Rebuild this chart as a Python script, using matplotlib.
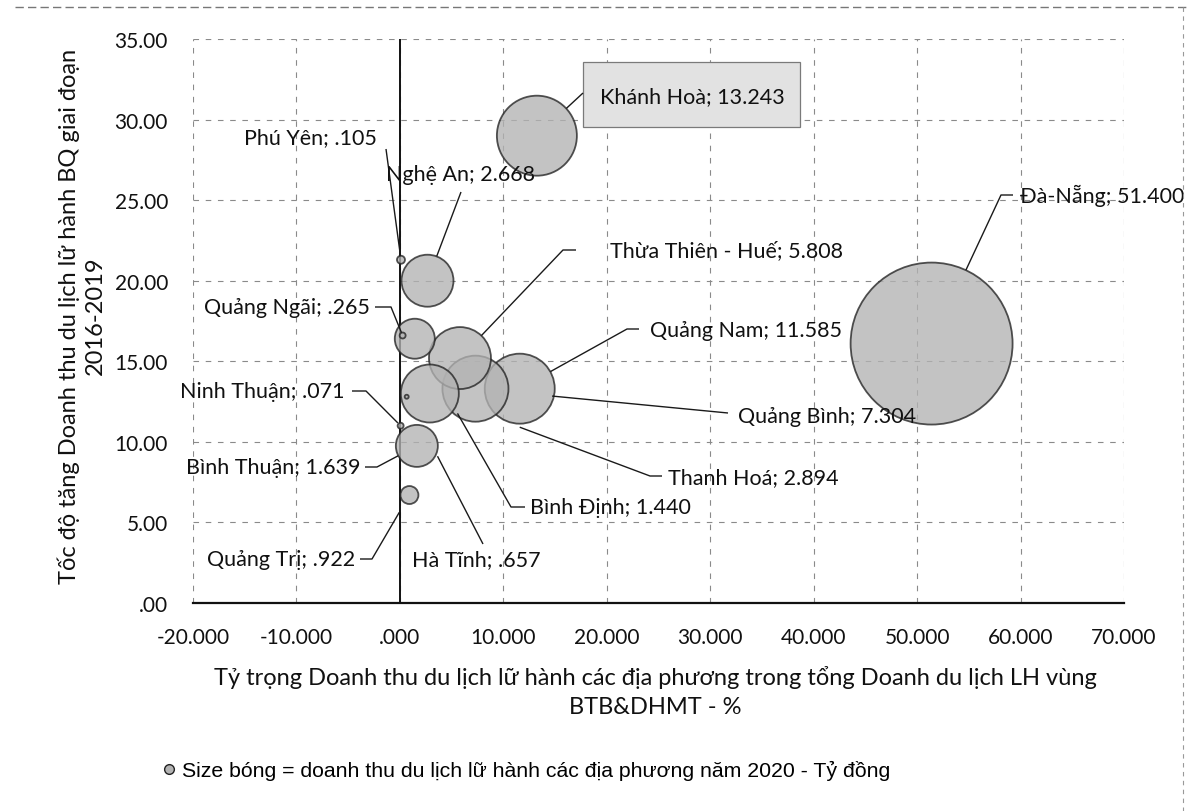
import numpy as np
import matplotlib
matplotlib.use("Agg")
import matplotlib.pyplot as plt
from matplotlib.lines import Line2D
from matplotlib.patches import Rectangle
from matplotlib.ticker import FuncFormatter, MultipleLocator

# ---------------- data ----------------
provinces = ["Đà-Nẵng", "Khánh Hoà", "Quảng Nam", "Quảng Bình", "Thừa Thiên - Huế",
             "Thanh Hoá", "Nghệ An", "Bình Thuận", "Bình Định", "Quảng Trị",
             "Hà Tĩnh", "Phú Yên", "Quảng Ngãi", "Ninh Thuận"]
share_pct = [51.400, 13.243, 11.585, 7.304, 5.808,
             2.894, 2.668, 1.639, 1.440, 0.922,
             0.657, 0.105, 0.265, 0.071]
growth_pct = [16.1, 29.0, 13.3, 13.3, 15.2,
              13.0, 20.0, 9.75, 16.4, 6.7,
              12.8, 21.3, 16.6, 11.0]
# relative bubble size (doanh thu 2020)
revenue_2020 = [6560, 1600, 1225, 1090, 960,
                841, 676, 441, 400, 81,
                4, 16, 9, 9]

x_ticks = [-20, -10, 0, 10, 20, 30, 40, 50, 60, 70]
y_ticks = [0, 5, 10, 15, 20, 25, 30, 35]

# ---------------- layout (pixels of the 1189x812 canvas) ----------------
W, H = 1189, 812
AX_L, AX_R, AX_B, AX_T = 193, 1124, 604, 40
# label: (text_x, text_y, ha, leader_start_x, leader_start_y, knee_dx, end_gap)
label_layout = {
    "Đà-Nẵng":          (1020, 196, "left", 1013, 196, -12, None),
    "Khánh Hoà":        (600, 97, "left", 583, 94, 0, None),
    "Quảng Nam":        (650, 331, "left", 639, 330, -12, None),
    "Quảng Bình":       (738, 417, "left", 728, 414, 0, 77),
    "Thừa Thiên - Huế": (610, 251, "left", 576, 251, -13, None),
    "Thanh Hoá":        (668, 478, "left", 662, 477, -12, 96),
    "Nghệ An":          (386, 175, "left", 461, 193, 0, None),
    "Bình Thuận":       (360, 468, "right", 365, 468, 12, None),
    "Bình Định":        (530, 508, "left", 525, 508, -14, 86),
    "Quảng Trị":        (355, 560, "right", 360, 560, 12, 20),
    "Hà Tĩnh":          (412, 560, "left", 483, 545, 0, 67),
    "Phú Yên":          (377, 138, "right", 386, 150, 0, None),
    "Quảng Ngãi":       (370, 308, "right", 375, 308, 16, None),
    "Ninh Thuận":       (345, 392, "right", 352, 392, 14, 4),
}

FONT = ["Lato", "DejaVu Sans"]
plt.rcParams["font.family"] = FONT

fig = plt.figure(figsize=(W / 100, H / 100), dpi=100)
ax = fig.add_axes([AX_L / W, 1 - AX_B / H, (AX_R - AX_L) / W, (AX_B - AX_T) / H])
ax.set_xlim(x_ticks[0], x_ticks[-1])
ax.set_ylim(y_ticks[0], y_ticks[-1])


def px2data(px, py):
    x = x_ticks[0] + (px - AX_L) / (AX_R - AX_L) * (x_ticks[-1] - x_ticks[0])
    y = y_ticks[0] + (AX_B - py) / (AX_B - AX_T) * (y_ticks[-1] - y_ticks[0])
    return x, y


# bubbles: radius in px = sqrt(value); s in pt^2
rev = np.array(revenue_2020, dtype=float)
r_px = np.sqrt(rev)
sizes = (2 * r_px * 0.72) ** 2
ax.scatter(share_pct, growth_pct, s=sizes, facecolor="#b3b3b3", edgecolor="#222222",
           linewidth=1.3, alpha=0.78, zorder=3)

# grid
ax.xaxis.set_major_locator(MultipleLocator(10))
ax.yaxis.set_major_locator(MultipleLocator(5))
ax.grid(True, color="#8a8a8a", linestyle=(0, (5, 6)), linewidth=0.8, zorder=0)
ax.get_ygridlines()[-1].set_visible(False)

for s in ["left", "top", "right"]:
    ax.spines[s].set_visible(False)
ax.spines["bottom"].set_linewidth(1.6)
ax.spines["bottom"].set_color("#111111")
ax.axvline(0, color="#111111", linewidth=1.4, zorder=2)


def fmt(v, dec):
    s = f"{v:.{dec}f}"
    if s.startswith("0."):
        s = s[1:]
    elif s.startswith("-0."):
        s = "-" + s[2:]
    return s


ax.xaxis.set_major_formatter(FuncFormatter(lambda v, p: fmt(v, 3)))
ax.yaxis.set_major_formatter(FuncFormatter(lambda v, p: fmt(v, 2)))
ax.tick_params(axis="both", length=0, labelsize=15, colors="#111111")
ax.tick_params(axis="y", pad=18)
ax.tick_params(axis="x", pad=17)

# leaders and labels
to_disp = ax.transData.transform
to_data = ax.transData.inverted().transform
for i, name in enumerate(provinces):
    tx, ty, ha, lx, ly, kdx, gap = label_layout[name]
    dx, dy = px2data(tx, ty)
    txt = f"{name}; {fmt(share_pct[i], 3)}"
    if name == "Khánh Hoà":
        bx0, by0 = px2data(583, 128)
        bx1, by1 = px2data(800, 63)
        ax.add_patch(Rectangle((bx0, by0), bx1 - bx0, by1 - by0, facecolor="#e2e2e2",
                               edgecolor="#7a7a7a", linewidth=0.9, zorder=4))
    ax.text(dx, dy, txt, ha=ha, va="center", fontsize=15.5, color="#111111", zorder=6)
    c = to_disp((share_pct[i], growth_pct[i]))
    sx, sy = to_disp(px2data(lx, ly))
    kx, ky = sx + kdx, sy
    g = r_px[i] if gap is None else gap
    v = np.array([kx - c[0], ky - c[1]])
    v = v / np.linalg.norm(v)
    ex, ey = c[0] + v[0] * g, c[1] + v[1] * g
    pts = to_data(np.array([[sx, sy], [kx, ky], [ex, ey]]))
    ax.plot(pts[:, 0], pts[:, 1], color="#1a1a1a", linewidth=1.0, zorder=5,
            solid_capstyle="butt")

# axis titles
fig.text(82 / W, 1 - 316 / H,
         "Tốc độ tăng Doanh thu du lịch lữ hành BQ giai đoạn\n2016-2019",
         rotation=90, ha="center", va="center", multialignment="center",
         fontsize=17, color="#111111", linespacing=1.3)
fig.text(655 / W, 1 - 692 / H,
         "Tỷ trọng Doanh thu du lịch lữ hành các địa phương trong tổng Doanh du lịch LH vùng\nBTB&DHMT - %",
         ha="center", va="center", multialignment="center",
         fontsize=17, color="#111111", linespacing=1.45)

# legend note
handle = Line2D([], [], marker="o", linestyle="", markersize=7,
                markerfacecolor="#b3b3b3", markeredgecolor="#222222", markeredgewidth=1.0)
fig.legend([handle], ["Size bóng = doanh thu du lịch lữ hành các địa phương năm 2020 - Tỷ đồng"],
           loc="center left", bbox_to_anchor=(150 / W, 1 - 771 / H), frameon=False,
           handletextpad=0.1, handlelength=1.0, borderaxespad=0,
           prop={"family": ["Liberation Sans", "DejaVu Sans"], "size": 15.3})

# scanned chart frame (top and right edges)
fig.add_artist(Line2D([15 / W, 1.0], [1 - 8 / H, 1 - 8 / H], transform=fig.transFigure,
                      color="#777777", linewidth=1.0, linestyle=(0, (6, 3))))
fig.add_artist(Line2D([1183 / W, 1183 / W], [1 - 8 / H, 0], transform=fig.transFigure,
                      color="#999999", linewidth=0.8, linestyle=(0, (4, 4))))

fig.savefig("out.png", dpi=100)
